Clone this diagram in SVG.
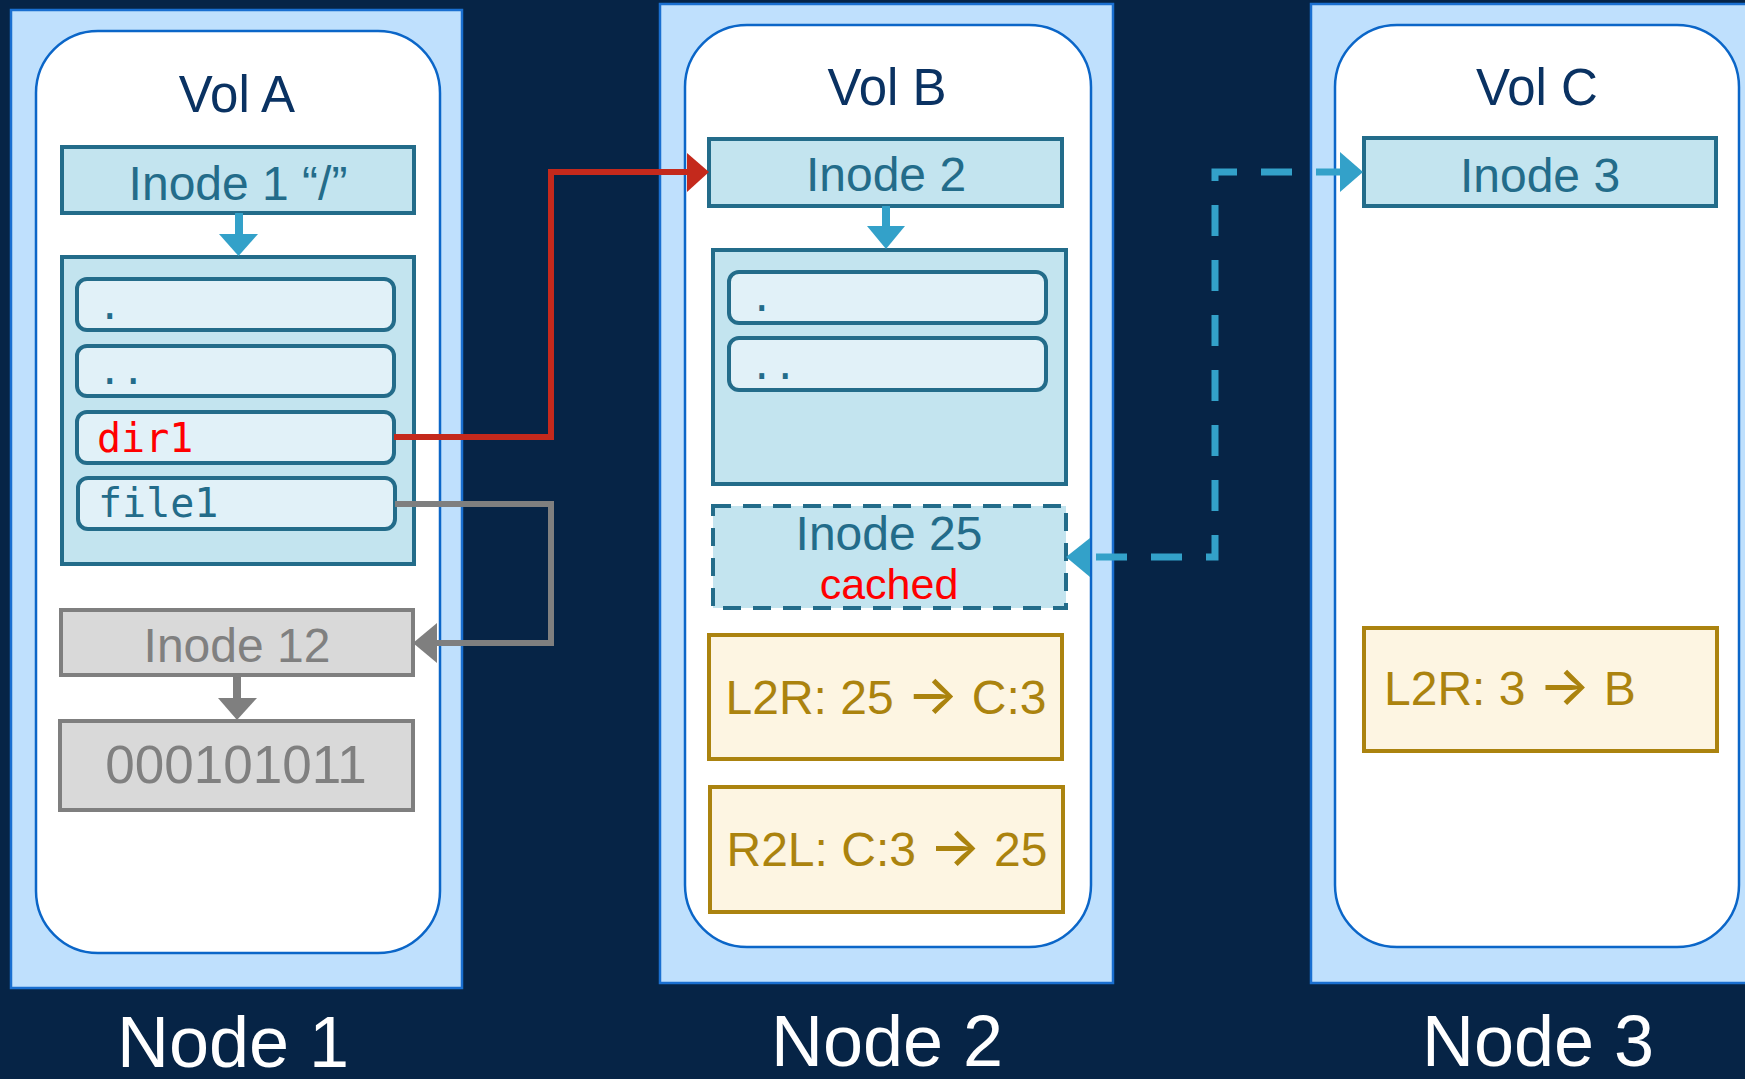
<svg xmlns="http://www.w3.org/2000/svg" width="1745" height="1079" viewBox="0 0 1745 1079">
<style>
.panel{fill:#bfe0fd;stroke:#1a6fd0;stroke-width:2.5}
.vol{fill:#ffffff;stroke:#0b66c8;stroke-width:2.5}
.voltitle{font-family:"Liberation Sans",Arial,sans-serif;font-size:51px;fill:#0a3262;text-anchor:middle}
.inode{fill:#c3e4ef;stroke:#236c8a;stroke-width:4}
.inodetxt{font-family:"Liberation Sans",Arial,sans-serif;font-size:48px;fill:#236c8a;text-anchor:middle}
.entry{fill:#e1f1f8;stroke:#236c8a;stroke-width:4}
.mono{font-family:"DejaVu Sans Mono","Liberation Mono",monospace;font-size:39px;fill:#236c8a}
.gray{fill:#d9d9d9;stroke:#7f7f7f;stroke-width:4}
.graytxt{font-family:"Liberation Sans",Arial,sans-serif;fill:#808080;text-anchor:middle}
.gold{fill:#fdf5e2;stroke:#ab830f;stroke-width:4}
.goldtxt{font-family:"Liberation Sans",Arial,sans-serif;font-size:48px;fill:#ab830e}
.arr{font-family:Inter,"DejaVu Sans",sans-serif;font-size:54px;font-weight:500}
.nodelbl{font-family:"Liberation Sans",Arial,sans-serif;font-size:72px;fill:#ffffff;text-anchor:middle}
.blue{fill:#33a1c9}
</style>
<rect x="0" y="0" width="1745" height="1079" fill="#062446"/>

<g id="node1">
  <rect class="panel" x="11" y="10" width="451" height="978"/>
  <text class="nodelbl" x="233" y="1067">Node 1</text>
</g>
<g id="volA">
  <rect class="vol" x="36" y="31" width="404" height="922" rx="62" ry="62"/>
  <text class="voltitle" x="237" y="112">Vol A</text>
</g>
<g id="inode1">
  <rect class="inode" x="62" y="147" width="352" height="66"/>
  <text class="inodetxt" x="238" y="200">Inode 1 “/”</text>
</g>
<g id="dirA">
  <rect class="inode" x="62" y="257" width="352" height="307"/>
  <g id="entryA-dot">
    <rect class="entry" x="77" y="279" width="317" height="51" rx="10"/>
    <text class="mono" x="98" y="319">.</text>
  </g>
  <g id="entryA-dotdot">
    <rect class="entry" x="77" y="346" width="317" height="50" rx="10"/>
    <text class="mono" x="98" y="384">..</text>
  </g>
  <g id="entryA-dir1">
    <rect class="entry" x="77" y="412" width="317" height="51" rx="10"/>
    <text class="mono" x="97" y="452" style="fill:#ff0000;font-size:40px">dir1</text>
  </g>
  <g id="entryA-file1">
    <rect class="entry" x="78" y="478" width="317" height="51" rx="10"/>
    <text class="mono" x="98" y="517" style="font-size:40px">file1</text>
  </g>
</g>
<g id="inode12">
  <rect class="gray" x="61" y="610" width="352" height="65"/>
  <text class="graytxt" x="237" y="662" font-size="48">Inode 12</text>
</g>
<g id="data">
  <rect class="gray" x="60" y="721" width="353" height="89"/>
  <text class="graytxt" x="236" y="783" font-size="53">000101011</text>
</g>

<g id="node2">
  <rect class="panel" x="660" y="4" width="453" height="979"/>
  <text class="nodelbl" x="887" y="1066">Node 2</text>
</g>
<g id="volB">
  <rect class="vol" x="685" y="25" width="406" height="922" rx="62" ry="62"/>
  <text class="voltitle" x="887" y="105">Vol B</text>
</g>
<g id="inode2">
  <rect class="inode" x="709" y="139" width="353" height="67"/>
  <text class="inodetxt" x="886" y="191">Inode 2</text>
</g>
<g id="dirB">
  <rect class="inode" x="713" y="250" width="353" height="234"/>
  <g id="entryB-dot">
    <rect class="entry" x="729" y="272" width="317" height="51" rx="10"/>
    <text class="mono" x="750" y="311">.</text>
  </g>
  <g id="entryB-dotdot">
    <rect class="entry" x="729" y="338" width="317" height="52" rx="10"/>
    <text class="mono" x="750" y="379">..</text>
  </g>
</g>
<g id="inode25">
  <rect x="713" y="506" width="353" height="102" fill="#c3e4ef" stroke="#236c8a" stroke-width="4" stroke-dasharray="18 12"/>
  <text class="inodetxt" x="889" y="550">Inode 25</text>
  <text x="889" y="599" font-family="Liberation Sans, Arial, sans-serif" font-size="43" fill="#ff0000" text-anchor="middle">cached</text>
</g>
<g id="l2rB">
  <rect class="gold" x="709" y="635" width="353" height="124"/>
  <text class="goldtxt" x="886" y="714" text-anchor="middle">L2R: 25 <tspan class="arr">→</tspan> C:3</text>
</g>
<g id="r2lB">
  <rect class="gold" x="710" y="787" width="353" height="125"/>
  <text class="goldtxt" x="887" y="866" text-anchor="middle">R2L: C:3 <tspan class="arr">→</tspan> 25</text>
</g>

<g id="node3">
  <rect class="panel" x="1311" y="4" width="500" height="979"/>
  <text class="nodelbl" x="1538" y="1066">Node 3</text>
</g>
<g id="volC">
  <rect class="vol" x="1335" y="25" width="404" height="922" rx="62" ry="62"/>
  <text class="voltitle" x="1537" y="105">Vol C</text>
</g>
<g id="inode3">
  <rect class="inode" x="1364" y="138" width="352" height="68"/>
  <text class="inodetxt" x="1540" y="192">Inode 3</text>
</g>
<g id="l2rC">
  <rect class="gold" x="1364" y="628" width="353" height="123"/>
  <text class="goldtxt" x="1384" y="705">L2R: 3 <tspan class="arr">→</tspan> B</text>
</g>

<g id="connectors">
  <rect class="blue" x="235" y="213" width="8" height="22"/>
  <polygon class="blue" points="219,234 258,234 238.5,256"/>
  <rect class="blue" x="882" y="206" width="8" height="21"/>
  <polygon class="blue" points="867,226 905,226 886,249"/>
  <rect x="233" y="675" width="8" height="24" fill="#7f7f7f"/>
  <polygon points="218,698 257,698 237,720" fill="#7f7f7f"/>
  <path d="M394,437 H551 V172 H690" fill="none" stroke="#c4291c" stroke-width="6"/>
  <polygon points="687,153 709,172 687,192" fill="#c4291c"/>
  <path d="M395,504 H551 V643 H435" fill="none" stroke="#7f7f7f" stroke-width="6"/>
  <polygon points="437,623 413,643 437,663" fill="#7f7f7f"/>
  <path d="M1092,557 H1215 V172 H1342" fill="none" stroke="#33a1c9" stroke-width="7" stroke-dasharray="31 24" stroke-dashoffset="-4"/>
  <polygon class="blue" points="1090,538 1066,557 1090,577"/>
  <polygon class="blue" points="1340,152 1363,172 1340,192"/>
</g>
</svg>
